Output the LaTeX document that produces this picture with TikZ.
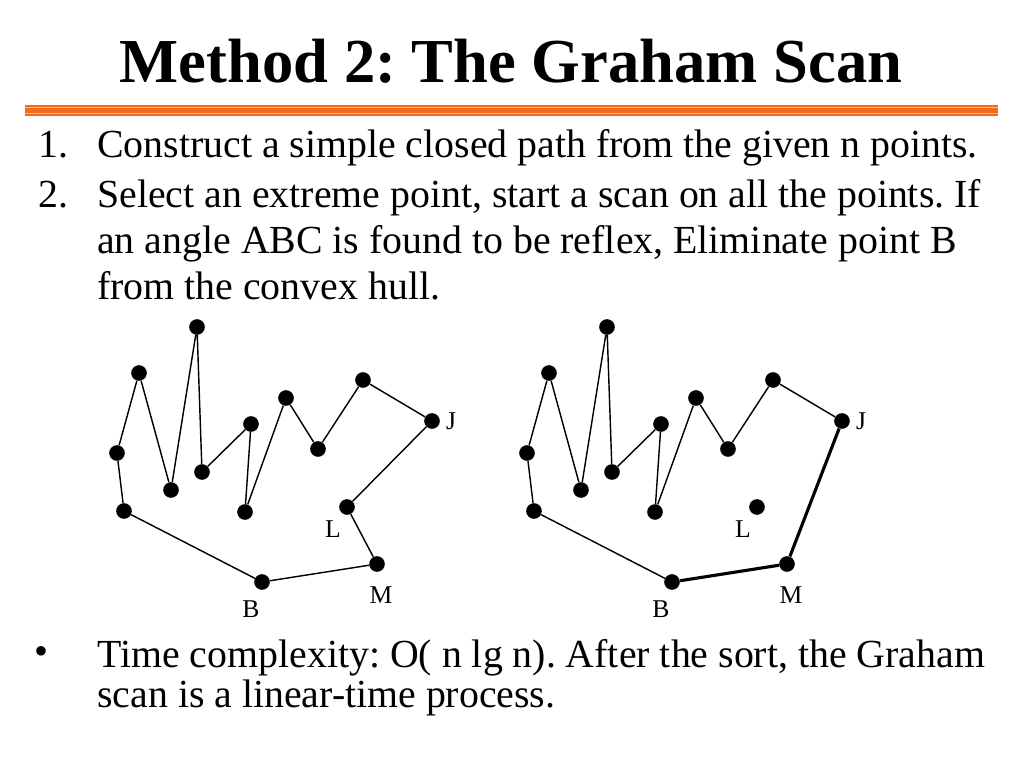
\documentclass[tikz,border=0pt]{standalone}
\usepackage{fontspec}
\setmainfont{Liberation Serif}
\usepackage{xcolor}
\usetikzlibrary{positioning}

\definecolor{ruleorange}{HTML}{F26B1D}
\definecolor{rulepale}{HTML}{F9B98C}

\begin{document}
\frenchspacing
\begin{tikzpicture}[
    x=0.703125pt, y=-0.703125pt,
    dot/.style={circle, fill=black, inner sep=0pt, minimum size=11pt},
    edge/.style={line width=1pt},
    hull/.style={line width=2.2pt},
    ptlabel/.style={inner sep=0pt, font=\fontsize{18}{20}\selectfont},
    body/.style={inner sep=0pt, anchor=base west,
        font=\fontsize{28}{32}\selectfont}
]
    \useasboundingbox (0,0) rectangle (1024,768);

    % title and rule
    \node[inner sep=0pt, anchor=base, font=\fontsize{44}{50}\selectfont\bfseries] (title) at (511,83) {Method 2: The Graham Scan};
    \fill[ruleorange] (25,105) rectangle (998,116);
    \draw[rulepale, line width=0.8pt] (25,107.4) -- (998,107.4);
    \draw[rulepale, line width=0.8pt] (25,113.4) -- (998,113.4);

    % list
    \node[body] (num1) at (38,158) {1.};
    \node[body] (item1) at (97,158) {Construct a simple closed path from the given n points.};
    \node[body] (num2) at (38,208) {2.};
    \node[body] (item2a) at (97,208) {Select an extreme point, start a scan on all the points. If};
    \node[body] (item2b) at (97,254) {an angle ABC is found to be reflex, Eliminate point B};
    \node[body] (item2c) at (97,300) {from the convex hull.};

    % the two point sets
    \foreach \side/\dx in {l/0, r/410} {
        \begin{scope}[xshift=\dx*0.703125pt]
            \node[dot] (\side0) at (124,511) {};
            \node[dot] (\side1) at (117,453) {};
            \node[dot] (\side2) at (139,373) {};
            \node[dot] (\side3) at (171,490) {};
            \node[dot] (\side4) at (197,327) {};
            \node[dot] (\side5) at (202,472) {};
            \node[dot] (\side6) at (251,424) {};
            \node[dot] (\side7) at (245,512) {};
            \node[dot] (\side8) at (286,398) {};
            \node[dot] (\side9) at (318,449) {};
            \node[dot] (\side10) at (363,380) {};
            \node[dot] (\side J) at (432,421) {};
            \node[dot] (\side L) at (347,507) {};
            \node[dot] (\side M) at (377,564) {};
            \node[dot] (\side B) at (262,582) {};
            \node[ptlabel] (\side labJ) at (451,421) {J};
            \node[ptlabel] (\side labL) at (333,529) {L};
            \node[ptlabel] (\side labM) at (381,595) {M};
            \node[ptlabel] (\side labB) at (251,609) {B};
        \end{scope}
        \draw[edge] (\side B) -- (\side0) -- (\side1) -- (\side2) -- (\side3) -- (\side4)
            -- (\side5) -- (\side6) -- (\side7) -- (\side8) -- (\side9) -- (\side10) -- (\side J);
    }
    \draw[edge] (lJ) -- (lL) -- (lM) -- (lB);
    \draw[hull] (rJ) -- (rM) -- (rB);

    % complexity
    \node[body] (bullet) at (34,664) {\textbullet};
    \node[body] (note1) at (97,667) {Time complexity: O( n lg n). After the sort, the Graham};
    \node[body] (note2) at (97,707) {scan is a linear-time process.};
\end{tikzpicture}
\end{document}
